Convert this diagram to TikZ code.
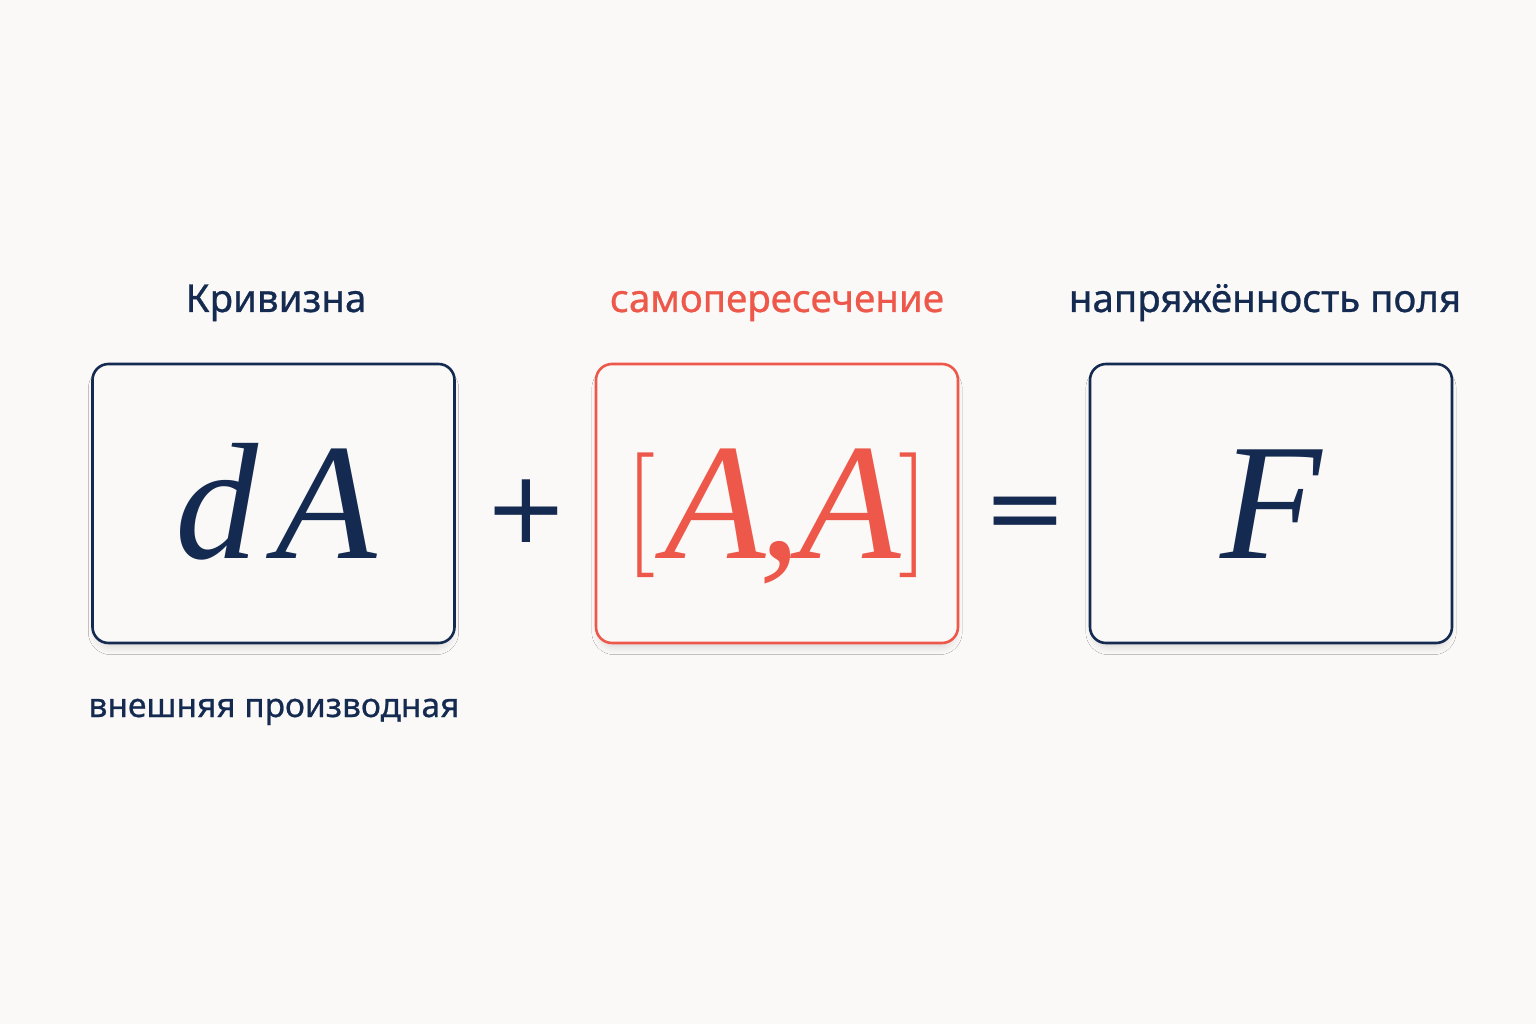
\documentclass[tikz,border=0pt]{standalone}
\usepackage{fontspec}
\usetikzlibrary{shadows.blur}
\newfontfamily\labelfont{Noto Sans}[FakeBold=0.7]
\newfontfamily\serifmath{Liberation Serif}
\newfontfamily\bracketfont{Latin Modern Roman}
\newfontfamily\opfont{DejaVu Sans}
\definecolor{navy}{RGB}{20,42,80}
\definecolor{coral}{RGB}{238,88,74}
\definecolor{bgc}{RGB}{250,249,247}
\tikzset{
  card/.style={draw=#1, line width=2.6pt, rounded corners=16pt, fill=bgc,
    minimum width=362pt, minimum height=279pt, inner sep=0pt,
    blur shadow={shadow xshift=0pt, shadow yshift=-7pt, shadow scale=0.985, shadow blur radius=7pt, shadow opacity=12}},
  lbl/.style={text=#1, anchor=base, inner sep=0pt, font=\labelfont\fontsize{38.5}{42}\selectfont},
  lblsmall/.style={text=#1, anchor=base, inner sep=0pt, font=\labelfont\fontsize{33.5}{38}\selectfont},
  mathtxt/.style={text=#1, anchor=base, inner sep=0pt, font=\serifmath\itshape\fontsize{166}{170}\selectfont},
  brtxt/.style={text=#1, anchor=base, inner sep=0pt, font=\bracketfont\fontsize{125}{130}\selectfont},
  optxt/.style={text=navy, anchor=base, inner sep=0pt, font=\opfont\fontsize{100}{110}\selectfont}
}
\begin{document}
\begin{tikzpicture}[x=1pt,y=-1pt]
\fill[bgc] (0,0) rectangle (1536,1024);
\useasboundingbox (0,0) rectangle (1536,1024);
% cards
\node[card=navy] (c1) at (273.5,503.5) {};
\node[card=coral] (c2) at (777,503.5) {};
\node[card=navy] (c3) at (1271,503.5) {};
% titles
\node[lbl=navy] (t1) at (276,312) {Кривизна};
\node[lbl=coral] (t2) at (777,312) {самопересечение};
\node[lbl=navy] (t3) at (1265,312) {напряжённость поля};
\node[lblsmall=navy] (b1) at (274,717) {внешняя производная};
% formulas
\node[mathtxt=navy] (m1) at (276,558) {d\hspace{17pt}A};
\node[brtxt=coral] (m2lb) at (640,546) {[};
\node[mathtxt=coral] (m2a1) at (715,558) {A};
\node[mathtxt=coral] (m2c) at (780,558) {,};
\node[mathtxt=coral] (m2a2) at (850,558) {A};
\node[brtxt=coral] (m2rb) at (914,546) {]};
\node[mathtxt=navy] (m3) at (1271,558) {F};
% operators
\node[optxt] (plus) at (526,542) {+};
\node[optxt] (eq) at (1025,542) {=};
\end{tikzpicture}
\end{document}
